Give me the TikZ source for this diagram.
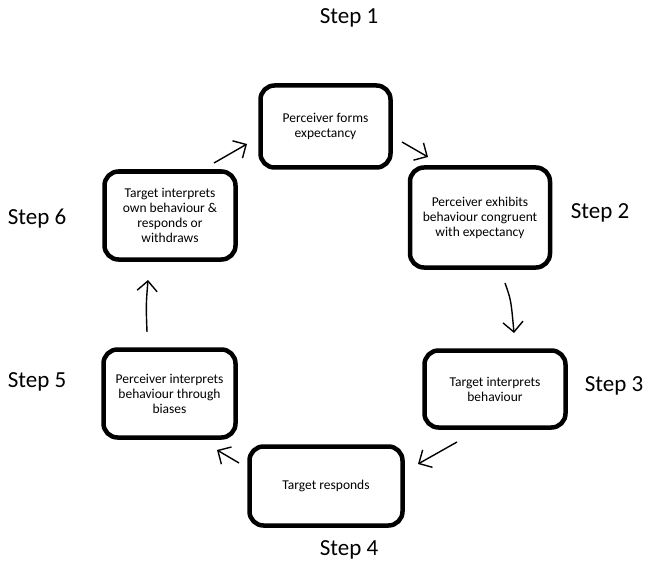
\documentclass[tikz,border=0pt]{standalone}
\usepackage{fontspec}
\setmainfont{Carlito}
\usetikzlibrary{arrows.meta}
\begin{document}
\begin{tikzpicture}[x=1pt,y=-1pt,
  stepbox/.style={draw=black, line width=4.5pt, rounded corners=14pt, fill=white,
    align=center, inner sep=2pt, font=\fontsize{13.5}{15}\selectfont},
  steplabel/.style={font=\fontsize{23}{26}\selectfont, inner sep=0pt},
  flow/.style={line width=1.4pt, -{Straight Barb[length=10pt,width=20pt,line width=1.4pt]}}]
\useasboundingbox (0,0) rectangle (655,580);

\node[stepbox, minimum width=130pt, minimum height=82pt] (b1) at (325.5,126.5) {Perceiver forms\\expectancy};
\node[stepbox, minimum width=140pt, minimum height=100pt] (b2) at (480,217.5) {Perceiver exhibits\\behaviour congruent\\with expectancy};
\node[stepbox, minimum width=141pt, minimum height=77pt] (b3) at (495,389) {Target interprets\\behaviour};
\node[stepbox, minimum width=153pt, minimum height=79pt] (b4) at (326,486) {Target responds};
\node[stepbox, minimum width=132pt, minimum height=88pt] (b5) at (169.5,393.5) {Perceiver interprets\\behaviour through\\biases};
\node[stepbox, minimum width=131pt, minimum height=88pt] (b6) at (170,215.5) {Target interprets\\own behaviour \&\\responds or\\withdraws};

\node[steplabel] (s1) at (349,18) {Step 1};
\node[steplabel] (s2) at (600,213) {Step 2};
\node[steplabel] (s3) at (614,386) {Step 3};
\node[steplabel] (s4) at (349,550) {Step 4};
\node[steplabel] (s5) at (37,382) {Step 5};
\node[steplabel] (s6) at (37,219) {Step 6};

\coordinate (a1s) at (214,163); \coordinate (a1e) at (247,144);
\coordinate (a2s) at (402,142); \coordinate (a2e) at (428,157);
\coordinate (a3s) at (505,283); \coordinate (a3e) at (514,333);
\coordinate (a4s) at (457,442); \coordinate (a4e) at (418,464);
\coordinate (a5s) at (239,463); \coordinate (a5e) at (217,450);
\coordinate (a6s) at (147,332); \coordinate (a6e) at (148,280);

\draw[flow] (a1s) -- (a1e);
\draw[flow] (a2s) -- (a2e);
\draw[flow] (a3s) .. controls (511,300) .. (a3e);
\draw[flow] (a4s) -- (a4e);
\draw[flow] (a5s) -- (a5e);
\draw[flow] (a6s) .. controls (146,305) .. (a6e);
\end{tikzpicture}
\end{document}
